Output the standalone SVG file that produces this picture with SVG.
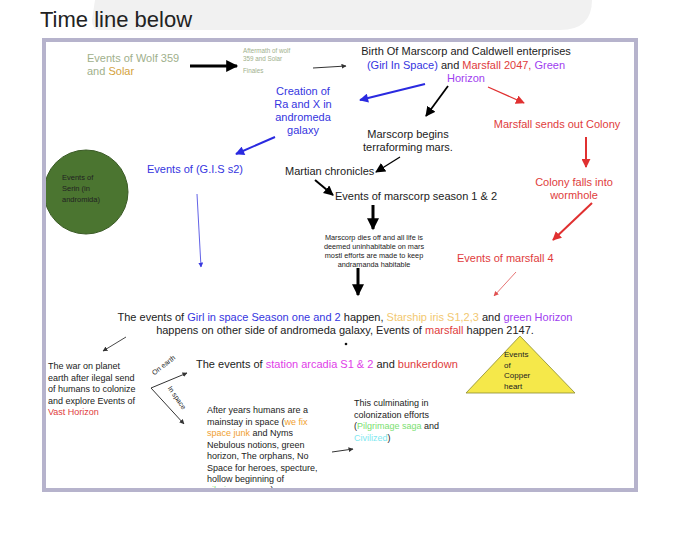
<svg xmlns="http://www.w3.org/2000/svg" width="680" height="557" viewBox="0 0 680 557">
<style>
text{font-family:"Liberation Sans",Arial,sans-serif;fill:#222}
.t11{font-size:11px}
.t9{font-size:9px}
.t7{font-size:7.3px}
.gg{fill:#a0b08c}
.gold{fill:#d4a23c}
.bl{fill:#3535e0}
.rd{fill:#e03c3c}
.pu{fill:#a040f0}
.mg{fill:#e040e8}
.or{fill:#f0a030}
.lg{fill:#f2c870}
.gr{fill:#7ae070}
.cy{fill:#80e8f0}
.cn line,.cn path{fill:none}
</style>
<defs>
<marker id="ak" viewBox="0 0 10 10" refX="9" refY="5" markerWidth="14" markerHeight="12" markerUnits="userSpaceOnUse" orient="auto"><path d="M0,0 L10,5 L0,10 z" fill="#000"/></marker>
<marker id="akm" viewBox="0 0 10 10" refX="9" refY="5" markerWidth="10" markerHeight="10" markerUnits="userSpaceOnUse" orient="auto"><path d="M0,0 L10,5 L0,10 z" fill="#000"/></marker>
<marker id="aks" viewBox="0 0 10 10" refX="9" refY="5" markerWidth="5" markerHeight="5" markerUnits="userSpaceOnUse" orient="auto"><path d="M0,0 L10,5 L0,10 z" fill="#333"/></marker>
<marker id="ab" viewBox="0 0 10 10" refX="9" refY="5" markerWidth="10" markerHeight="9" markerUnits="userSpaceOnUse" orient="auto"><path d="M0,0 L10,5 L0,10 z" fill="#2a2ae0"/></marker>
<marker id="abs" viewBox="0 0 10 10" refX="9" refY="5" markerWidth="5" markerHeight="5" markerUnits="userSpaceOnUse" orient="auto"><path d="M0,0 L10,5 L0,10 z" fill="#3a3ae0"/></marker>
<marker id="ar" viewBox="0 0 10 10" refX="9" refY="5" markerWidth="9" markerHeight="9" markerUnits="userSpaceOnUse" orient="auto"><path d="M0,0 L10,5 L0,10 z" fill="#e03030"/></marker>
<marker id="ars" viewBox="0 0 10 10" refX="9" refY="5" markerWidth="5" markerHeight="5" markerUnits="userSpaceOnUse" orient="auto"><path d="M0,0 L10,5 L0,10 z" fill="#e05050"/></marker>
<clipPath id="fc"><rect x="44" y="40" width="592" height="450"/></clipPath>
</defs>

<rect width="680" height="557" fill="#fff"/>
<path d="M95,0 L592,0 Q592,30 560,30 L100,30 Q92,30 92,20 Z" fill="#f1f1f1"/>
<text x="40" y="27" style="font-size:22px" fill="#111">Time line below</text>

<rect x="44" y="40" width="592" height="450" fill="#fff" stroke="#b6b3cc" stroke-width="4"/>

<g class="cn" id="connectors">
<line x1="190" y1="66" x2="237" y2="66" stroke="#000" stroke-width="3" marker-end="url(#ak)"/>
<line x1="313" y1="68" x2="346" y2="66" stroke="#333" stroke-width="1" marker-end="url(#aks)"/>
<line x1="425" y1="84" x2="360" y2="100" stroke="#2a2ae0" stroke-width="2" marker-end="url(#ab)"/>
<line x1="448" y1="86" x2="426" y2="116" stroke="#000" stroke-width="1.8" marker-end="url(#akm)"/>
<line x1="488" y1="87" x2="524" y2="103" stroke="#e03030" stroke-width="1.3" marker-end="url(#ar)"/>
<line x1="586" y1="137" x2="586" y2="167" stroke="#e03030" stroke-width="2" marker-end="url(#ar)"/>
<line x1="275" y1="137" x2="236" y2="154" stroke="#2a2ae0" stroke-width="2" marker-end="url(#ab)"/>
<line x1="197" y1="194" x2="201" y2="267" stroke="#3a3ae0" stroke-width="0.8" marker-end="url(#abs)"/>
<line x1="400" y1="157" x2="376" y2="172" stroke="#000" stroke-width="1.3" marker-end="url(#akm)"/>
<line x1="315" y1="180" x2="333" y2="195" stroke="#000" stroke-width="2" marker-end="url(#akm)"/>
<line x1="373" y1="205" x2="373" y2="229" stroke="#000" stroke-width="3" marker-end="url(#ak)"/>
<line x1="592" y1="203" x2="553" y2="240" stroke="#e03030" stroke-width="2" marker-end="url(#ar)"/>
<line x1="516" y1="272" x2="494" y2="296" stroke="#e05050" stroke-width="0.8" marker-end="url(#ars)"/>
<line x1="358" y1="268" x2="358" y2="295" stroke="#000" stroke-width="3" marker-end="url(#ak)"/>
<circle cx="346" cy="344" r="1.3" fill="#111"/>
<line x1="126" y1="337" x2="103" y2="351" stroke="#333" stroke-width="0.9" marker-end="url(#aks)"/>
<path d="M151,388 L184,424" stroke="#333" stroke-width="1" marker-end="url(#aks)"/>
<line x1="151" y1="388" x2="187" y2="373" stroke="#333" stroke-width="1" marker-end="url(#aks)"/>
<line x1="332" y1="452" x2="353" y2="449" stroke="#333" stroke-width="1" marker-end="url(#aks)"/>
</g>

<g id="wolf359">
<text class="t11" x="87" y="62"><tspan class="gg">Events of Wolf 359</tspan><tspan x="87" dy="12.5" class="gg">and </tspan><tspan class="gold">Solar</tspan></text>
</g>
<g id="aftermath">
<text x="243" y="53" class="gg" style="font-size:6.3px">Aftermath of wolf</text>
<text x="243" y="61" class="gg" style="font-size:6.3px">359 and Solar</text>
<text x="243" y="73" class="gg" style="font-size:6.3px">Finales</text>
</g>
<g id="birth">
<text class="t11" x="466" y="55" text-anchor="middle">Birth Of Marscorp and Caldwell enterprises</text>
<text class="t11" x="466" y="69" text-anchor="middle"><tspan class="bl">(Girl In Space)</tspan> and <tspan class="rd">Marsfall 2047, </tspan><tspan class="pu">Green</tspan></text>
<text class="t11 pu" x="466" y="82" text-anchor="middle">Horizon</text>
</g>
<g id="creation">
<text class="t11 bl" x="303" y="95" text-anchor="middle">Creation of</text>
<text class="t11 bl" x="303" y="108" text-anchor="middle">Ra and X in</text>
<text class="t11 bl" x="303" y="121" text-anchor="middle">andromeda</text>
<text class="t11 bl" x="303" y="134" text-anchor="middle">galaxy</text>
</g>
<g id="terraforming">
<text class="t11" x="408" y="138" text-anchor="middle">Marscorp begins</text>
<text class="t11" x="408" y="151" text-anchor="middle">terraforming mars.</text>
</g>
<g id="colony">
<text class="t11 rd" x="557" y="128" text-anchor="middle">Marsfall sends out Colony</text>
</g>
<g id="wormhole">
<text class="t11 rd" x="574" y="186" text-anchor="middle">Colony falls into</text>
<text class="t11 rd" x="574" y="199" text-anchor="middle">wormhole</text>
</g>
<g id="serin">
<circle cx="86" cy="192" r="42" fill="#4b7530" stroke="#3a5a25" stroke-width="1"/>
<text x="62" y="180" style="font-size:7.5px" fill="#1a1a1a">Events of</text>
<text x="62" y="191" style="font-size:7.5px" fill="#1a1a1a">Serin (in</text>
<text x="62" y="202" style="font-size:7.5px" fill="#1a1a1a">andromida)</text>
</g>
<g id="gis2">
<text class="t11 bl" x="147" y="173">Events of (G.I.S s2)</text>
</g>
<g id="martian">
<text class="t11" x="285" y="175">Martian chronicles</text>
</g>
<g id="marscorp12">
<text class="t11" x="335" y="200">Events of marscorp season 1 &amp; 2</text>
</g>
<g id="marscorpdies">
<text class="t7" x="374" y="240" text-anchor="middle">Marscorp dies off and all life is</text>
<text class="t7" x="374" y="249" text-anchor="middle">deemed uninhabitable on  mars</text>
<text class="t7" x="374" y="258" text-anchor="middle">mostl efforts are made to keep</text>
<text class="t7" x="374" y="267" text-anchor="middle">andramanda habitable</text>
</g>
<g id="marsfall4">
<text class="t11 rd" x="457" y="262">Events of marsfall 4</text>
</g>
<g id="gisevents">
<text class="t11" x="345" y="321" text-anchor="middle">The events of <tspan class="bl">Girl in space Season one and 2</tspan> happen, <tspan class="lg">Starship iris S1,2,3</tspan>  and <tspan class="pu">green Horizon</tspan></text>
<text class="t11" x="345" y="334" text-anchor="middle">happens on other side of andromeda galaxy, Events of <tspan class="rd">marsfall</tspan> happen 2147.</text>
</g>
<g id="war">
<text class="t9" x="48" y="369">The war on planet</text>
<text class="t9" x="48" y="380.5">earth after ilegal send</text>
<text class="t9" x="48" y="392">of humans to colonize</text>
<text class="t9" x="48" y="403.5">and explore Events of</text>
<text class="t9 rd" x="48" y="415">Vast Horizon</text>
</g>
<g id="labels">
<text style="font-size:7px" x="165" y="367" text-anchor="middle" transform="rotate(-38 165 367)">On earth</text>
<text style="font-size:7px" x="175" y="399" text-anchor="middle" transform="rotate(55 175 399)">In space</text>
</g>
<g id="arcadia">
<text class="t11" x="196" y="368">The events of <tspan class="mg">station arcadia S1 &amp; 2</tspan> and <tspan class="rd">bunkerdown</tspan></text>
</g>
<g id="afteryears" clip-path="url(#fc)">
<text class="t9" x="207" y="413">After years humans are a</text>
<text class="t9" x="207" y="424.5">mainstay in space (<tspan class="or">we fix</tspan></text>
<text class="t9" x="207" y="436"><tspan class="or">space junk</tspan> and Nyms</text>
<text class="t9" x="207" y="447.5">Nebulous notions, green</text>
<text class="t9" x="207" y="459">horizon, The orphans, No</text>
<text class="t9" x="207" y="470.5">Space for heroes, specture,</text>
<text class="t9" x="207" y="482">hollow  beginning of</text>
<text class="t9" x="207" y="492.5"><tspan class="gr">pilgrimage saga</tspan>)</text>
</g>
<g id="culminating">
<text class="t9" x="354" y="406">This culminating in</text>
<text class="t9" x="354" y="417.5">colonization efforts</text>
<text class="t9" x="354" y="429">(<tspan class="gr">Pilgrimage saga</tspan> and</text>
<text class="t9" x="354" y="440.5"><tspan class="cy">Civilized</tspan>)</text>
</g>
<g id="copperheart">
<polygon points="520,336 466,393 575,393" fill="#f5e84a" stroke="#8a8a30" stroke-width="0.8"/>
<text style="font-size:8px" x="504" y="357">Events</text>
<text style="font-size:8px" x="504" y="367.5">of</text>
<text style="font-size:8px" x="504" y="378">Copper</text>
<text style="font-size:8px" x="504" y="388.5">heart</text>
</g>
<rect x="44" y="40" width="592" height="450" fill="none" stroke="#b6b3cc" stroke-width="4"/>
</svg>
